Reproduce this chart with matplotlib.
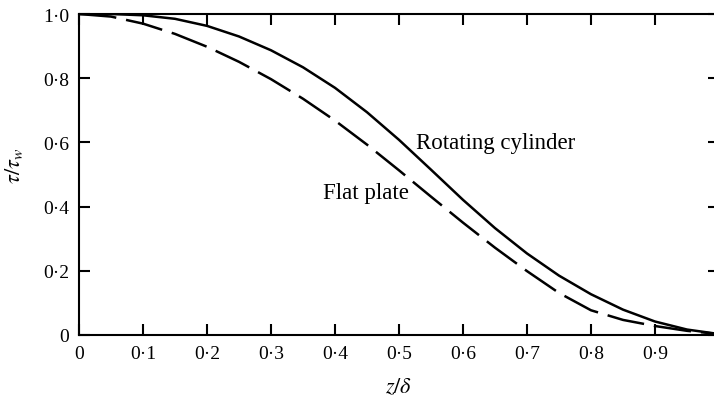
import matplotlib.pyplot as plt
import numpy as np

plt.rcParams['font.family'] = ['Liberation Serif', 'DejaVu Serif']
plt.rcParams['mathtext.fontset'] = 'stix'

# shear stress profiles across the boundary layer
z_delta = [0.0, 0.05, 0.1, 0.15, 0.2, 0.25, 0.3, 0.35, 0.4, 0.45, 0.5,
           0.55, 0.6, 0.65, 0.7, 0.75, 0.8, 0.85, 0.9, 0.95, 1.0]
rotating_cylinder = [1.0, 1.0, 0.996, 0.985, 0.963, 0.930, 0.887, 0.834, 0.770, 0.694, 0.608,
                     0.515, 0.421, 0.333, 0.254, 0.185, 0.127, 0.079, 0.042, 0.017, 0.003]
flat_plate = [1.0, 0.992, 0.970, 0.938, 0.898, 0.851, 0.797, 0.736, 0.668, 0.593, 0.513,
              0.431, 0.350, 0.272, 0.199, 0.131, 0.077, 0.047, 0.028, 0.013, 0.003]

xticks = np.arange(0, 1.0, 0.1)
yticks = np.arange(0, 1.01, 0.2)


def dot_fmt(v):
    if abs(v) < 1e-9:
        return '0'
    return f'{v:.1f}'.replace('.', '\u00b7')


fig = plt.figure(figsize=(7.14, 4.02), dpi=100)
ax = fig.add_axes([79 / 714, 1 - 336 / 402, 640 / 714, 321 / 402])

ax.plot(z_delta, rotating_cylinder, color='black', lw=1.8)
ax.plot(z_delta, flat_plate, color='black', lw=1.8, ls=(0, (15, 4)))

ax.set_xlim(0, 1)
ax.set_ylim(0, 1)
ax.set_xticks(xticks, [dot_fmt(v) for v in xticks])
ax.set_yticks(yticks, [dot_fmt(v) for v in yticks])
ax.tick_params(direction='in', length=8, width=1.5, labelsize=14,
               top=True, right=True, pad=7)
for s in ax.spines.values():
    s.set_linewidth(1.5)

ax.text(0.527, 0.60, 'Rotating cylinder', fontsize=16.5, va='center', ha='left')
ax.text(0.381, 0.445, 'Flat plate', fontsize=16.5, va='center', ha='left')

ax.set_xlabel(r'$z/\delta$', fontsize=16, labelpad=11)
ax.set_ylabel(r'$\tau/\tau_w$', fontsize=16, labelpad=6)
ax.yaxis.set_label_coords(-0.085, 0.53)

fig.savefig('out.png', dpi=100)
